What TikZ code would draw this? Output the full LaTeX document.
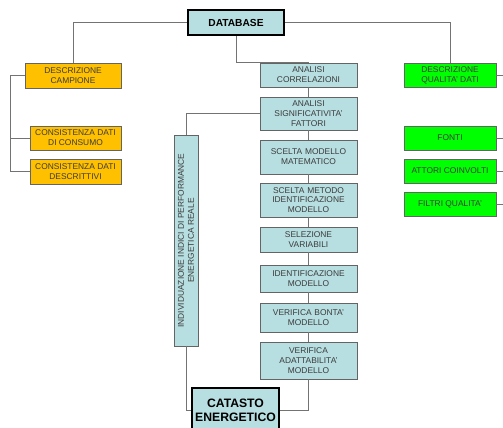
\documentclass[tikz,border=0pt]{standalone}
\usepackage{fontspec}
\setmainfont{Liberation Sans}
\definecolor{bluefill}{RGB}{183,222,224}
\definecolor{orangefill}{RGB}{255,192,0}
\definecolor{greenfill}{RGB}{0,255,0}
\definecolor{edge}{RGB}{100,100,100}
\definecolor{wire}{RGB}{115,115,115}
\definecolor{txt}{RGB}{60,60,60}
\begin{document}
\begin{tikzpicture}[x=1pt,y=-1pt,
  box/.style={draw=edge,line width=0.9pt,align=center,inner sep=1pt,text=txt,
    font=\fontsize{8.4}{9.8}\selectfont},
  bluebox/.style={box,fill=bluefill,minimum width=97,text width=95},
  orbox/.style={box,fill=orangefill},
  grbox/.style={box,fill=greenfill,minimum width=92},
  bigbox/.style={draw=black,line width=1.6pt,fill=bluefill,align=center,text=black,
    font=\bfseries},
  wire/.style={draw=wire,line width=1pt}]
\useasboundingbox (0,0) rectangle (503,428);
\clip (0,0) rectangle (503,428);
\fill[white] (0,0) rectangle (503,428);

% top
\node[bigbox,minimum width=96,minimum height=25,font=\bfseries\fontsize{10.2}{12}\selectfont] (db) at (236,22.5) {DATABASE};

% orange
\node[orbox,minimum width=96,minimum height=25] (dc) at (73,75.5) {DESCRIZIONE\\CAMPIONE};
\node[orbox,minimum width=91,minimum height=24] (cc) at (75.5,138) {CONSISTENZA DATI\\DI CONSUMO};
\node[orbox,minimum width=91,minimum height=25] (cd) at (75.5,171.5) {CONSISTENZA DATI\\DESCRITTIVI};

% blue column
\node[bluebox,minimum height=24] (ac) at (308.5,75) {ANALISI\\CORRELAZIONI};
\node[bluebox,minimum height=33] (as) at (308.5,113.5) {ANALISI\\SIGNIFICATIVITA'\\FATTORI};
\node[bluebox,minimum height=34] (smm) at (308.5,157) {SCELTA MODELLO\\MATEMATICO};
\node[bluebox,minimum height=34] (smi) at (308.5,200) {SCELTA METODO\\IDENTIFICAZIONE\\MODELLO};
\node[bluebox,minimum height=25] (sv) at (308.5,239.5) {SELEZIONE\\VARIABILI};
\node[bluebox,minimum height=27] (im) at (308.5,278.5) {IDENTIFICAZIONE\\MODELLO};
\node[bluebox,minimum height=29] (vb) at (308.5,317.5) {VERIFICA BONTA'\\MODELLO};
\node[bluebox,minimum height=37] (va) at (308.5,360.5) {VERIFICA\\ADATTABILITA'\\MODELLO};

% vertical box
\node[box,fill=bluefill,minimum width=211,minimum height=24,rotate=90,inner sep=0pt] (ind) at (186,240.5) {INDIVIDUAZIONE INDICI DI PERFORMANCE\\ENERGETICA REALE};

% catasto
\node[bigbox,minimum width=87,minimum height=44,font=\bfseries\fontsize{12.2}{14}\selectfont] (ce) at (235.5,410) {CATASTO\\ENERGETICO};

% green
\node[grbox,minimum height=24] (dq) at (450,75) {DESCRIZIONE\\QUALITA' DATI};
\node[grbox,minimum height=24] (fo) at (450,138) {FONTI};
\node[grbox,minimum height=24] (at) at (450,171) {ATTORI COINVOLTI};
\node[grbox,minimum height=24] (fq) at (450,204) {FILTRI QUALITA'};

\coordinate (lb) at (10,0);
\coordinate (rb) at (510,0);

% connectors
\draw[wire] (db.west) -| (dc.north);
\draw[wire] (db.east) -| (dq.north);
\draw[wire] (db.south) -- ++(0,26.5) -| (ac.north);
\draw[wire] (dc.west) -- (dc.west -| lb) |- (cd.west);
\draw[wire] (cc.west -| lb) -- (cc.west);
\draw[wire] (ac.south) -- (as.north);
\draw[wire] (as.south) -- (smm.north);
\draw[wire] (smm.south) -- (smi.north);
\draw[wire] (smi.south) -- (sv.north);
\draw[wire] (sv.south) -- (im.north);
\draw[wire] (im.south) -- (vb.north);
\draw[wire] (vb.south) -- (va.north);
\draw[wire] (ind.east) |- (as.west);
\draw[wire] (ind.west) |- (ce.west);
\draw[wire] (va.south) |- (ce.east);
\draw[wire] (dq.east) -- (dq.east -| rb);
\draw[wire] (fo.east) -- (fo.east -| rb);
\draw[wire] (at.east) -- (at.east -| rb);
\draw[wire] (fq.east) -- (fq.east -| rb);
\end{tikzpicture}
\end{document}
